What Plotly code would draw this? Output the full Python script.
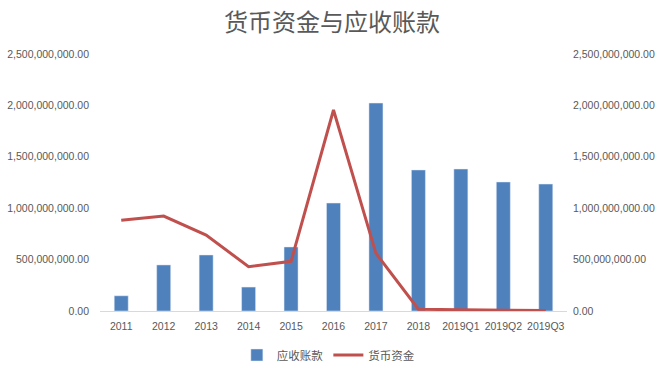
import plotly.graph_objects as go

categories = ["2011", "2012", "2013", "2014", "2015", "2016", "2017", "2018", "2019Q1", "2019Q2", "2019Q3"]
receivables = [148e6, 448e6, 545e6, 233e6, 623e6, 1050e6, 2023e6, 1372e6, 1381e6, 1255e6, 1235e6]
cash = [882e6, 924e6, 739e6, 431e6, 483e6, 1955e6, 561e6, 17e6, 12e6, 8e6, 5e6]
y_ticks = [0, 5e8, 1e9, 1.5e9, 2e9, 2.5e9]

font_family = "Liberation Sans, Noto Sans CJK SC, sans-serif"
gray = "#595959"

fig = go.Figure()
fig.add_trace(go.Bar(x=categories, y=receivables, name="应收账款",
                     marker=dict(color="#4F81BD"), yaxis="y"))
fig.add_trace(go.Scatter(x=categories, y=cash, name="货币资金", mode="lines",
                         line=dict(color="#C0504D", width=3), yaxis="y2"))

axis_common = dict(range=[0, 2.5e9], tickvals=y_ticks, tickformat=",.2f",
                   showgrid=False, zeroline=False, showline=False, ticks="",
                   automargin=False,
                   tickfont=dict(size=10.5, color=gray, family=font_family))

fig.update_layout(
    width=664, height=370,
    margin=dict(l=100, r=97, t=54, b=59),
    paper_bgcolor="white", plot_bgcolor="white",
    title=dict(text="货币资金与应收账款", x=0.5, xanchor="center", y=0.939, yanchor="middle",
               font=dict(size=24, color=gray, family="Noto Sans CJK SC, sans-serif")),
    bargap=0.67,
    xaxis=dict(type="category", showline=True, linecolor="#D9D9D9", linewidth=1,
               ticks="", showgrid=False, automargin=False, ticklabelstandoff=5,
               tickfont=dict(size=10.5, color=gray, family=font_family)),
    yaxis=dict(**axis_common, side="left", ticklabelstandoff=10),
    yaxis2=dict(**axis_common, side="right", overlaying="y", ticklabelstandoff=5),
    legend=dict(orientation="h", x=0.489, xanchor="center",
                yref="container", y=0.0405, yanchor="middle",
                font=dict(size=11.5, color=gray, family="Noto Sans CJK SC, sans-serif"),
                itemwidth=30),
    showlegend=True,
)

fig.write_html("out.html", post_script="document.body.style.margin='0';",
               config={"displayModeBar": False})
